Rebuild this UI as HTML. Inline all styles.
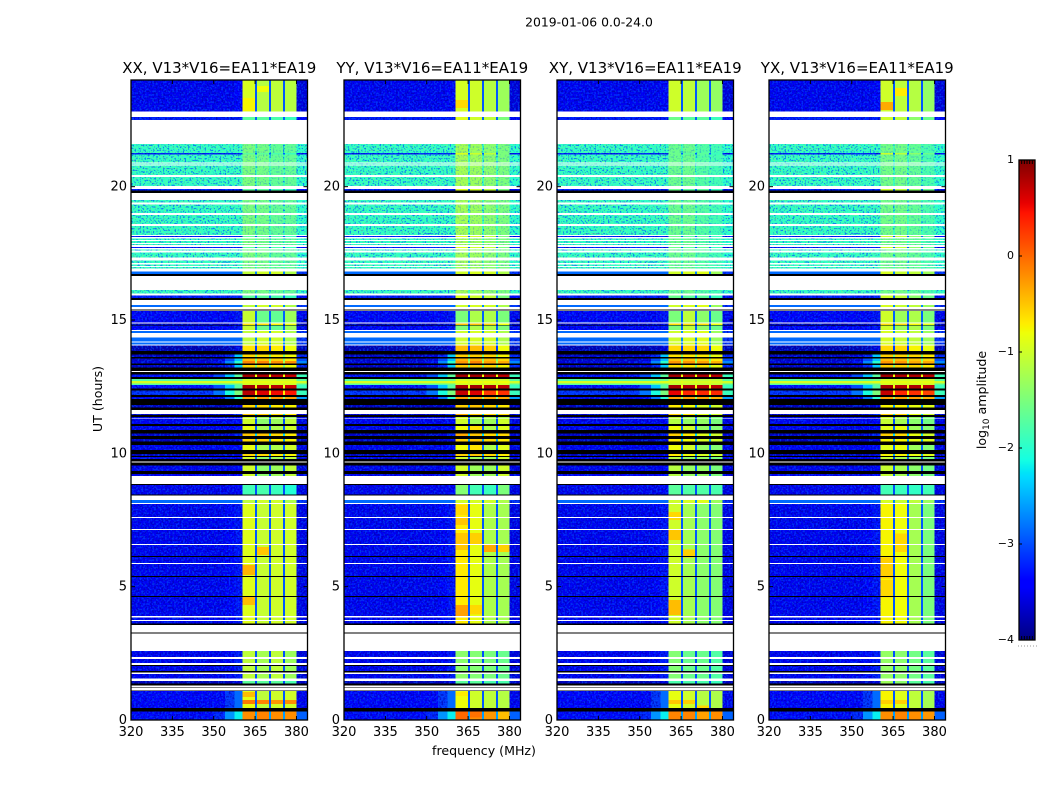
<!DOCTYPE html>
<html lang="en">
<head>
<meta charset="utf-8">
<title>2019-01-06 0.0-24.0</title>
<style>
html,body{margin:0;padding:0;background:#fff;width:1050px;height:800px;overflow:hidden}
svg{display:block}
text{font-family:"DejaVu Sans","Liberation Sans",sans-serif;fill:#000}
.tick{font-size:13px}
.axt{font-size:12.6px}
.ttl{font-size:15px}
</style>
</head>
<body>
<!-- The speckle filters below are a decorative texture only; they carry no data. Heatmap values come from the arrays in the script. -->
<svg id="chart" xmlns="http://www.w3.org/2000/svg" width="1050" height="800" viewBox="0 0 1050 800">
  <defs>
    <filter id="speckDark" x="0" y="0" width="1" height="1" color-interpolation-filters="sRGB"><feTurbulence type="fractalNoise" baseFrequency="0.55" numOctaves="1" seed="3"/><feColorMatrix values="0 0 0 0 0 0 0 0 0 0 0 0 0 0 0.66 7 0 0 0 -3.4"/></filter>
    <filter id="speckLight" x="0" y="0" width="1" height="1" color-interpolation-filters="sRGB"><feTurbulence type="fractalNoise" baseFrequency="0.55" numOctaves="1" seed="11"/><feColorMatrix values="0 0 0 0 0 0 0 0 0 0.34 0 0 0 0 1 0 7 0 0 -3.5"/></filter>
    <filter id="speckBlue" x="0" y="0" width="1" height="1" color-interpolation-filters="sRGB"><feTurbulence type="fractalNoise" baseFrequency="0.6" numOctaves="1" seed="23"/><feColorMatrix values="0 0 0 0 0 0 0 0 0 0.3 0 0 0 0 1 9 0 0 0 -4.9"/></filter>
    <filter id="speckGreen" x="0" y="0" width="1" height="1" color-interpolation-filters="sRGB"><feTurbulence type="fractalNoise" baseFrequency="0.6" numOctaves="1" seed="37"/><feColorMatrix values="0 0 0 0 0.45 0 0 0 0 1 0 0 0 0 0.5 0 9 0 0 -5"/></filter>
  </defs>
  <text x="589" y="26.5" font-size="12.4" text-anchor="middle">2019-01-06 0.0-24.0</text>
  <text class="axt" transform="translate(102,399) rotate(-90)" text-anchor="middle">UT (hours)</text>
  <text class="axt" x="484" y="755" text-anchor="middle">frequency (MHz)</text>
  <text class="axt" transform="translate(986,400) rotate(-90)" text-anchor="middle">log<tspan font-size="9" dy="3">10</tspan><tspan dy="-3"> amplitude</tspan></text>
</svg>
<script>
// ---- chart data (log10 amplitude, hours, MHz), all read by eye from the picture ----
const panelNames = ["XX", "YY", "XY", "YX"];
const panelSuffix = ", V13*V16=EA11*EA19";
const freqTicks = [320, 335, 350, 365, 380];
const hourTicks = [0, 5, 10, 15, 20];
const colorbarTicks = [1, 0, -1, -2, -3, -4];
const freqRange = [320, 384];
const hourRange = [0, 24];
const valueRange = [-4, 1];
// frequency cell edges: out-of-band, leak (3), sub-band 1, gap, 2, gap, 3, gap, 4, right edge
const freqEdges = [320, 350, 354, 357.5, 360.5, 365, 365.7, 370.1, 370.8, 375.2, 375.9, 380, 384];
// each time row: [upper hour, row kind]; w = flagged white, k = flagged black; the row ends at next entry
const timeRows = [
[24,"top"],[22.81,"w"],[22.61,"sliver"],[22.5,"w"],[21.6,"noise"],[21.26,"sliver"],[21.21,"noise"],[20.91,"w"],[20.86,"noise"],[20.84,"w"],
[20.79,"noise"],[20.44,"w"],[20.36,"noise"],[20.03,"w"],[19.91,"sliver"],[19.85,"k"],[19.76,"w"],[19.5,"noise"],[19.41,"w"],[19.34,"noise"],
[19.01,"w"],[18.94,"noise"],[18.6,"w"],[18.53,"noise"],[18.19,"w"],[18.15,"sliver"],[18.11,"w"],[18.06,"noise"],[18,"w"],[17.96,"noise"],
[17.89,"w"],[17.85,"noise"],[17.81,"w"],[17.74,"sliver"],[17.7,"w"],[17.65,"noise"],[17.6,"w"],[17.54,"noise"],[17.34,"w"],[17.24,"noise"],
[17.13,"w"],[17.09,"noise"],[17.03,"w"],[16.99,"noise"],[16.94,"w"],[16.81,"lite"],[16.73,"k"],[16.65,"w"],[16.13,"noise"],[16,"w"],
[15.91,"sliver"],[15.83,"k"],[15.75,"w"],[15.56,"lite"],[15.49,"w"],[15.39,"k"],[15.36,"w"],[15.34,"upper"],[14.9,"w"],[14.86,"dark"],
[14.81,"k"],[14.79,"upper"],[14.63,"w"],[14.58,"lite"],[14.52,"w"],[14.34,"lite"],[14.19,"w"],[14.15,"lite"],[14.09,"w"],[14.04,"dark"],
[13.84,"k"],[13.71,"hb1"],[13.61,"k"],[13.56,"hb2"],[13.47,"hb3"],[13.36,"k"],[13.31,"hb1"],[13.21,"k"],[13.09,"w"],[13.05,"k"],
[12.95,"rd"],[12.86,"k"],[12.79,"jg"],[12.71,"jy"],[12.62,"jg"],[12.56,"rd"],[12.43,"k"],[12.35,"rd2"],[12.19,"k"],[12.12,"orn"],
[12.03,"k"],[11.81,"dy"],[11.71,"k"],[11.63,"w"],[11.48,"do"],[11.43,"k"],[11.37,"b1"],[11.31,"w"],[11.28,"b2"],[11.1,"k"],
[11.03,"b3"],[10.88,"k"],[10.75,"do"],[10.65,"k"],[10.53,"dy"],[10.45,"k"],[10.32,"b3"],[10.13,"k"],[9.98,"dy"],[9.9,"k"],
[9.87,"b2"],[9.78,"k"],[9.69,"w"],[9.65,"k"],[9.55,"b2"],[9.34,"k"],[9.23,"b2"],[9.15,"w"],[8.85,"k"],[8.82,"l"],
[8.46,"k"],[8.41,"w"],[8.25,"lite"],[8.14,"w"],[8.1,"m"],[7.61,"w"],[7.58,"m"],[7.16,"w"],[7.13,"m"],[6.6,"w"],
[6.56,"m"],[6.15,"k"],[6.11,"m"],[5.89,"w"],[5.85,"m"],[5.4,"k"],[5.36,"m"],[4.65,"k"],[4.61,"m"],[3.9,"w"],
[3.85,"m"],[3.75,"w"],[3.72,"m"],[3.61,"k"],[3.57,"w"],[3.29,"k"],[3.24,"w"],[2.59,"n"],[2.36,"w"],[2.29,"n"],
[2.13,"w"],[2.07,"k"],[2.03,"n"],[1.84,"k"],[1.79,"w"],[1.73,"n"],[1.56,"w"],[1.46,"sd"],[1.37,"k"],[1.29,"w"],
[1.24,"k"],[1.21,"w"],[1.11,"k"],[1.08,"base"],[0.45,"k"],[0.31,"hot"]
];
// off-band levels per row kind: [below 350, leak 350-354, leak 354-357.5, leak 357.5-360.5, sub-band gaps, above 380]
const offBandLevels = {
top:[-3.5,-3.5,-3.5,-3.45,-2.95,-3.6], sliver:[-3.25,-3.25,-3.25,-3.25,-2.9,-3.35],
noise:[-1.95,-1.95,-1.95,-1.95,-1.9,-2], lite:[-2.85,-2.85,-2.85,-2.85,-2.7,-3.1],
upper:[-3.4,-3.4,-3.4,-3.3,-2.9,-3.5], dark:[-3.8,-3.8,-3.75,-3.6,-3.1,-3.8],
hb1:[-3.7,-3.6,-3.2,-2.4,-1.5,-3.2], hb2:[-3.7,-3.6,-3,-2.4,-1.5,-3], hb3:[-3.6,-3.3,-2.7,-2,-1.2,-2.7],
rd:[-3.3,-3,-2.4,-1.7,-0.8,-1.9], rd2:[-3.1,-2.8,-2.1,-1.5,-0.7,-1.9],
jg:[-1.75,-1.75,-1.7,-1.6,-1,-1.7], jy:[-0.95,-0.95,-0.95,-0.9,-0.9,-1],
orn:[-3.5,-3.4,-2.8,-2,-1.4,-2.6], dy:[-3.75,-3.75,-3.7,-3.6,-2.6,-3.7], do:[-3.7,-3.7,-3.6,-3.2,-2.3,-3.6],
b1:[-3.5,-3.5,-3.5,-3.45,-3,-3.55], b2:[-3.5,-3.5,-3.5,-3.45,-3,-3.55], b3:[-3.5,-3.5,-3.45,-3.35,-2.9,-3.55],
l:[-3.5,-3.5,-3.5,-3.45,-3,-3.55], m:[-3.5,-3.5,-3.45,-3.3,-2.95,-3.55], n:[-3.5,-3.5,-3.45,-3.25,-3,-3.6],
sd:[-3.75,-3.75,-3.7,-3.6,-3,-3.7], base:[-3.45,-3.4,-3.1,-2.85,-2.95,-3.5], hot:[-3.35,-3.2,-2.65,-2.2,-2.6,-2.9]
};
// sub-band levels per row kind, one [s1,s2,s3,s4] list for XX, YY, XY, YX
const bandLevels = {
top:[[-0.95,-1.15,-1.1,-1.15],[-0.95,-1,-1.15,-1.3],[-1,-1.1,-1.3,-1.35],[-1,-1.1,-1.15,-1.35]],
sliver:[[-1.7,-1.7,-1.8,-1.9],[-0.9,-1,-1.1,-1.5],[-1.6,-1.7,-1.7,-1.9],[-1,-1.1,-1.4,-1.6]],
noise:[[-1.5,-1.55,-1.65,-1.65],[-1.25,-1.3,-1.4,-1.5],[-1.6,-1.6,-1.75,-1.85],[-1.55,-1.55,-1.65,-1.8]],
lite:[[-1.1,-1,-1,-1.2],[-1,-0.95,-1,-1.2],[-1,-0.95,-0.9,-1.3],[-0.95,-1.05,-1.1,-1.3]],
upper:[[-1.05,-1.6,-1.65,-1.3],[-1.5,-1.2,-1.2,-1.5],[-1.5,-1.1,-1.4,-1.6],[-1,-1.3,-1.2,-1.5]],
dark:[[-0.65,-0.6,-0.7,-0.8],[-0.45,-0.45,-0.55,-0.8],[-0.6,-0.6,-0.6,-0.8],[-0.6,-0.6,-0.75,-0.85]],
hb1:[[-0.6,-0.65,-0.7,-0.8],[-0.55,-0.55,-0.6,-0.75],[-0.65,-0.7,-0.7,-0.85],[-0.55,-0.6,-0.6,-0.7]],
hb2:[[-0.45,-0.5,-0.55,-0.7],[-0.4,-0.4,-0.45,-0.6],[-0.5,-0.5,-0.55,-0.7],[-0.45,-0.45,-0.5,-0.6]],
hb3:[[-0.15,-0.15,-0.2,-0.2],[-0.25,-0.15,-0.3,-0.35],[-0.25,-0.25,-0.3,-0.4],[-0.25,-0.25,-0.35,-0.35]],
rd:[[0.85,0.8,0.75,0.7],[0.85,0.85,0.8,0.75],[0.85,0.8,0.8,0.75],[0.85,0.8,0.8,0.75]],
rd2:[[0.75,0.6,0.5,0.45],[0.7,0.6,0.25,0.3],[0.55,0.35,0.35,0.35],[0.7,0.35,0.3,0.2]],
jg:[[-1,-1,-1,-1],[-1,-1,-1,-1],[-1.1,-1.1,-1.1,-1.1],[-1,-1,-1,-1]],
jy:[[-0.85,-0.85,-0.85,-0.85],[-0.8,-0.8,-0.8,-0.8],[-0.95,-0.95,-0.95,-0.95],[-0.85,-0.85,-0.85,-0.85]],
orn:[[-0.3,-0.25,-0.25,-0.3],[-0.3,-0.3,-0.35,-0.35],[-0.3,-0.3,-0.3,-0.4],[-0.3,-0.3,-0.3,-0.4]],
dy:[[-0.6,-0.6,-0.7,-0.75],[-0.55,-0.5,-0.6,-0.7],[-0.7,-0.8,-0.95,-1],[-0.75,-0.75,-0.85,-0.9]],
do:[[-0.5,-0.5,-0.6,-0.7],[-0.35,-0.5,-0.6,-0.6],[-0.55,-0.7,-0.9,-1],[-0.55,-0.6,-0.85,-1]],
b1:[[-1,-1.3,-1.2,-1.3],[-0.95,-1.2,-1.2,-1.2],[-1.1,-1.3,-1.35,-1.5],[-1,-1.2,-1.35,-1.5]],
b2:[[-1,-1.4,-1.3,-1.1],[-1,-1.3,-1.3,-1],[-1.15,-1.35,-1.35,-1.5],[-1.05,-1.25,-1.4,-1.55]],
b3:[[-0.85,-1.25,-1.2,-1],[-0.8,-0.65,-1.2,-0.9],[-0.8,-1,-1.35,-1.45],[-0.9,-0.85,-1.3,-1.45]],
l:[[-1.85,-1.8,-1.9,-2.05],[-1.45,-1.85,-1.9,-1.5],[-1.7,-1.75,-1.75,-1.8],[-1.85,-1.9,-1.95,-1.85]],
m:[[-0.9,-1.05,-1,-1],[-0.7,-0.85,-1.2,-1.25],[-1,-1.25,-1.4,-1.45],[-0.75,-0.8,-1.25,-1.5]],
n:[[-1.1,-1.25,-1.1,-1.3],[-1.4,-1.45,-1.5,-1.6],[-1.45,-1.6,-1.6,-1.75],[-1.35,-1.4,-1.55,-1.7]],
sd:[[-1.7,-1.7,-1.7,-1.8],[-1.7,-1.7,-1.8,-1.8],[-1.8,-1.8,-1.8,-1.9],[-1.3,-1.4,-1.7,-1.8]],
base:[[-0.85,-1.1,-1,-1],[-0.8,-1,-1.1,-1.15],[-0.85,-1,-1.15,-1.2],[-0.75,-0.9,-1.1,-1.25]],
hot:[[-0.2,-0.15,-0.2,-0.2],[-0.1,-0.2,-0.25,-0.45],[-0.15,-0.15,-0.3,-0.2],[-0.2,-0.15,-0.2,-0.25]]
};
// brighter patches per panel: [upper hour, lower hour, low MHz, high MHz, level]
const patchesXX = [[23.33,22.84,360.5,365,-0.75],[23.78,23.55,365.7,370.1,-0.8],[5.81,5.44,360.5,365,-0.4],[4.61,4.31,360.5,365,-0.45],[6.49,6.19,365.7,370.1,-0.5],[1.05,0.86,360.5,365,-0.45],[0.75,0.6,360.5,365,-0.1],[0.75,0.6,365.7,370.1,-0.15],[0.75,0.6,370.8,375.2,-0.25],[0.75,0.6,375.9,380,-0.2]];
const patchesYY = [[23.25,22.95,360.5,365,-0.6],[8.06,7.69,360.5,365,-0.6],[7.61,7.31,360.5,365,-0.5],[7.01,6.38,360.5,365,-0.5],[6.56,6.3,370.8,375.2,-0.35],[6.56,6.3,375.9,380,-0.55],[7.01,6.6,365.7,370.1,-0.55],[4.31,3.9,360.5,365,-0.3],[4.31,3.95,365.7,370.1,-0.6],[1.05,0.9,360.5,365,-0.7],[0.31,0.04,360.5,365,0],[0.31,0.1,365.7,370.1,-0.05]];
const patchesXY = [[7.13,6.75,360.5,365,-0.5],[7.8,7.5,360.5,365,-0.6],[6.4,6.1,365.7,370.1,-0.55],[4.5,3.94,360.5,365,-0.45],[0.75,0.6,360.5,365,-0.5],[0.75,0.6,365.7,370.1,-0.55],[0.55,0.45,370.8,375.2,-0.6]];
const patchesYX = [[23.18,22.88,360.5,365,-0.35],[23.7,23.4,365.7,370.1,-0.7],[5.25,4.6,360.5,365,-0.6],[7,6.3,365.7,370.1,-0.6],[6.1,5.3,360.5,365,-0.55],[0.75,0.6,360.5,365,-0.55],[0.75,0.6,365.7,370.1,-0.55]];
const panelPatches = [patchesXX, patchesYY, patchesXY, patchesYX];

// ---- layout + axis functions ----
const SVGNS = "http://www.w3.org/2000/svg";
const chart = document.getElementById("chart");
const panelLeft = [131, 344, 557, 769];
const panelWidth = 176.5, plotTop = 80, plotBottom = 720;
const barLeft = 1019, barWidth = 16, barTop = 160, barBottom = 640;
function xScale(p, mhz) { return panelLeft[p] + (mhz - freqRange[0]) / (freqRange[1] - freqRange[0]) * panelWidth; }
function yScale(h) { return plotBottom - (h - hourRange[0]) / (hourRange[1] - hourRange[0]) * (plotBottom - plotTop); }
function barY(v) { return barBottom - (v - valueRange[0]) / (valueRange[1] - valueRange[0]) * (barBottom - barTop); }
function seg(pts, t) {
  for (let i = 1; i < pts.length; i++) {
    if (t <= pts[i][0]) { const a = pts[i - 1], b = pts[i]; return a[1] + (b[1] - a[1]) * (t - a[0]) / (b[0] - a[0]); }
  }
  return pts[pts.length - 1][1];
}
const jetR = [[0,0],[.35,0],[.66,1],[.89,1],[1,.5]];
const jetG = [[0,0],[.125,0],[.375,1],[.64,1],[.91,0],[1,0]];
const jetB = [[0,.5],[.11,1],[.34,1],[.65,0],[1,0]];
function colorOf(v) {
  const t = Math.max(0, Math.min(1, (v - valueRange[0]) / (valueRange[1] - valueRange[0])));
  return "rgb(" + Math.round(seg(jetR, t) * 255) + "," + Math.round(seg(jetG, t) * 255) + "," + Math.round(seg(jetB, t) * 255) + ")";
}
function rectEl(parent, x, y, w, h, fill) {
  const r = document.createElementNS(SVGNS, "rect");
  r.setAttribute("x", x); r.setAttribute("y", y); r.setAttribute("width", w); r.setAttribute("height", h);
  r.setAttribute("fill", fill);
  parent.appendChild(r);
  return r;
}
function textEl(parent, x, y, anchor, str, cls) {
  const t = document.createElementNS(SVGNS, "text");
  t.setAttribute("x", x); t.setAttribute("y", y); t.setAttribute("text-anchor", anchor);
  t.setAttribute("class", cls);
  t.textContent = str;
  parent.appendChild(t);
  return t;
}
function lineEl(parent, x1, y1, x2, y2) {
  const l = document.createElementNS(SVGNS, "line");
  l.setAttribute("x1", x1); l.setAttribute("y1", y1); l.setAttribute("x2", x2); l.setAttribute("y2", y2);
  l.setAttribute("stroke", "#000"); l.setAttribute("stroke-width", "1");
  parent.appendChild(l);
  return l;
}
function minus(v) { return String(v).replace("-", "\u2212"); }
// column order in freqEdges -> index into off-band levels, or "sN" for a sub-band column
const columnRole = [0, 1, 2, 3, "s0", 4, "s1", 4, "s2", 4, "s3", 5];

panelNames.forEach(function (name, p) {
  const g = document.createElementNS(SVGNS, "g");
  
  
  chart.appendChild(g);
  const clipId = "clip" + p;
  const cp = document.createElementNS(SVGNS, "clipPath");
  cp.setAttribute("id", clipId);
  rectEl(cp, panelLeft[p], plotTop, panelWidth, plotBottom - plotTop, "#000");
  g.appendChild(cp);
  const noiseClip = document.createElementNS(SVGNS, "clipPath");
  noiseClip.setAttribute("id", "noiseclip" + p);
  g.appendChild(noiseClip);
  const data = document.createElementNS(SVGNS, "g");
  data.setAttribute("clip-path", "url(#" + clipId + ")");
  data.setAttribute("shape-rendering", "crispEdges");
  g.appendChild(data);
  const lowLayer = document.createElementNS(SVGNS, "g");
  const noiseLayer = document.createElementNS(SVGNS, "g");
  const upperLayer = document.createElementNS(SVGNS, "g");
  const flagLayer = document.createElementNS(SVGNS, "g");
  data.appendChild(lowLayer);

  timeRows.forEach(function (row, i) {
    const top = yScale(row[0]);
    const bottom = yScale(i + 1 < timeRows.length ? timeRows[i + 1][0] : hourRange[0]);
    const kind = row[1];
    if (kind === "w" || kind === "k") {
      const flag = rectEl(flagLayer, panelLeft[p], top, panelWidth, bottom - top, kind === "w" ? "#fff" : "#000");
      
      
      return;
    }
    if (kind === "noise") rectEl(noiseClip, panelLeft[p], top, panelWidth, bottom - top, "#000");
    columnRole.forEach(function (role, c) {
      const isBand = typeof role === "string";
      const v = isBand ? bandLevels[kind][p][+role[1]] : offBandLevels[kind][role];
      const x0 = xScale(p, freqEdges[c]), x1 = xScale(p, freqEdges[c + 1]);
      let layer = upperLayer;
      if (kind === "noise") layer = noiseLayer;
      else if (!isBand && role !== 4 && v < -3) layer = lowLayer;
      const cell = rectEl(layer, x0, top, x1 - x0, bottom - top, colorOf(v));
      
      
      if (kind === "noise" && isBand) {
        const wash = rectEl(upperLayer, x0, top, x1 - x0, bottom - top, colorOf(v));
        wash.setAttribute("fill-opacity", "0.6");
        
        
      }
    });
  });

  const texDark = rectEl(data, panelLeft[p], plotTop, panelWidth, plotBottom - plotTop, "#000");
  texDark.setAttribute("filter", "url(#speckDark)");
  texDark.setAttribute("opacity", "0.6");
  
  
  const texLight = rectEl(data, panelLeft[p], plotTop, panelWidth, plotBottom - plotTop, "#000");
  texLight.setAttribute("filter", "url(#speckLight)");
  texLight.setAttribute("opacity", "0.55");
  
  
  data.appendChild(noiseLayer);
  const noiseTexGroup = document.createElementNS(SVGNS, "g");
  noiseTexGroup.setAttribute("clip-path", "url(#noiseclip" + p + ")");
  data.appendChild(noiseTexGroup);
  const texBlue = rectEl(noiseTexGroup, panelLeft[p], plotTop, panelWidth, plotBottom - plotTop, "#000");
  texBlue.setAttribute("filter", "url(#speckBlue)");
  texBlue.setAttribute("opacity", "0.7");
  
  
  const texGreen = rectEl(noiseTexGroup, panelLeft[p], plotTop, panelWidth, plotBottom - plotTop, "#000");
  texGreen.setAttribute("filter", "url(#speckGreen)");
  texGreen.setAttribute("opacity", "0.6");
  
  
  data.appendChild(upperLayer);

  panelPatches[p].forEach(function (q) {
    const patch = rectEl(upperLayer, xScale(p, q[2]), yScale(q[0]), xScale(p, q[3]) - xScale(p, q[2]), yScale(q[1]) - yScale(q[0]), colorOf(q[4]));
    
    
  });
  data.appendChild(flagLayer);

  const frame = rectEl(g, panelLeft[p], plotTop, panelWidth, plotBottom - plotTop, "none");
  frame.setAttribute("stroke", "#000");
  frame.setAttribute("stroke-width", "1.3");
  
  

  hourTicks.forEach(function (h) {
    const y = yScale(h);
    const a = lineEl(g, panelLeft[p], y, panelLeft[p] + 4, y);
    
    
    const b = lineEl(g, panelLeft[p] + panelWidth - 4, y, panelLeft[p] + panelWidth, y);
    
    
    const lab = textEl(g, panelLeft[p] - 4, y + 4, "end", String(h), "tick");
    
    
  });
  freqTicks.forEach(function (f) {
    const x = xScale(p, f);
    const a = lineEl(g, x, plotBottom - 4, x, plotBottom);
    
    
    const b = lineEl(g, x, plotTop, x, plotTop + 4);
    
    
    const lab = textEl(g, x, plotBottom + 16, "middle", String(f), "tick");
    
    
  });
  const title = textEl(g, panelLeft[p] + panelWidth / 2, 73, "middle", name + panelSuffix, "ttl");
  
  
});

// colorbar
const bar = document.createElementNS(SVGNS, "g");


chart.appendChild(bar);
const barSteps = barBottom - barTop;
for (let i = 0; i < barSteps; i++) {
  const v = valueRange[0] + (i + 0.5) / barSteps * (valueRange[1] - valueRange[0]);
  const y = barY(v);
  const s = rectEl(bar, barLeft, y - 0.5, barWidth, 1, colorOf(v));
  s.setAttribute("shape-rendering", "crispEdges");
  
  
}
const barFrame = rectEl(bar, barLeft, barTop, barWidth, barBottom - barTop, "none");
barFrame.setAttribute("stroke", "#000");
barFrame.setAttribute("stroke-width", "1.3");


colorbarTicks.forEach(function (v) {
  const y = barY(v);
  const lab = textEl(bar, barLeft - 5, y + 3, "end", minus(v), "tick");
  lab.style.fontSize = "11px";
  
  
  const t = lineEl(bar, barLeft, y, barLeft + 3, y);
  
  
});
for (let i = 1; i <= 5; i++) {
  const x = barLeft + i * barWidth / 6;
  const u = lineEl(bar, x, barTop, x, barTop + 4);
  
  
  const d = lineEl(bar, x, barBottom - 4, x, barBottom);
  
  
}
for (let i = 0; i <= 6; i++) {
  const dot = rectEl(bar, barLeft - 1 + i * 3, 645.5, 1, 1, "#999");
  
  
}
</script>
</body>
</html>
